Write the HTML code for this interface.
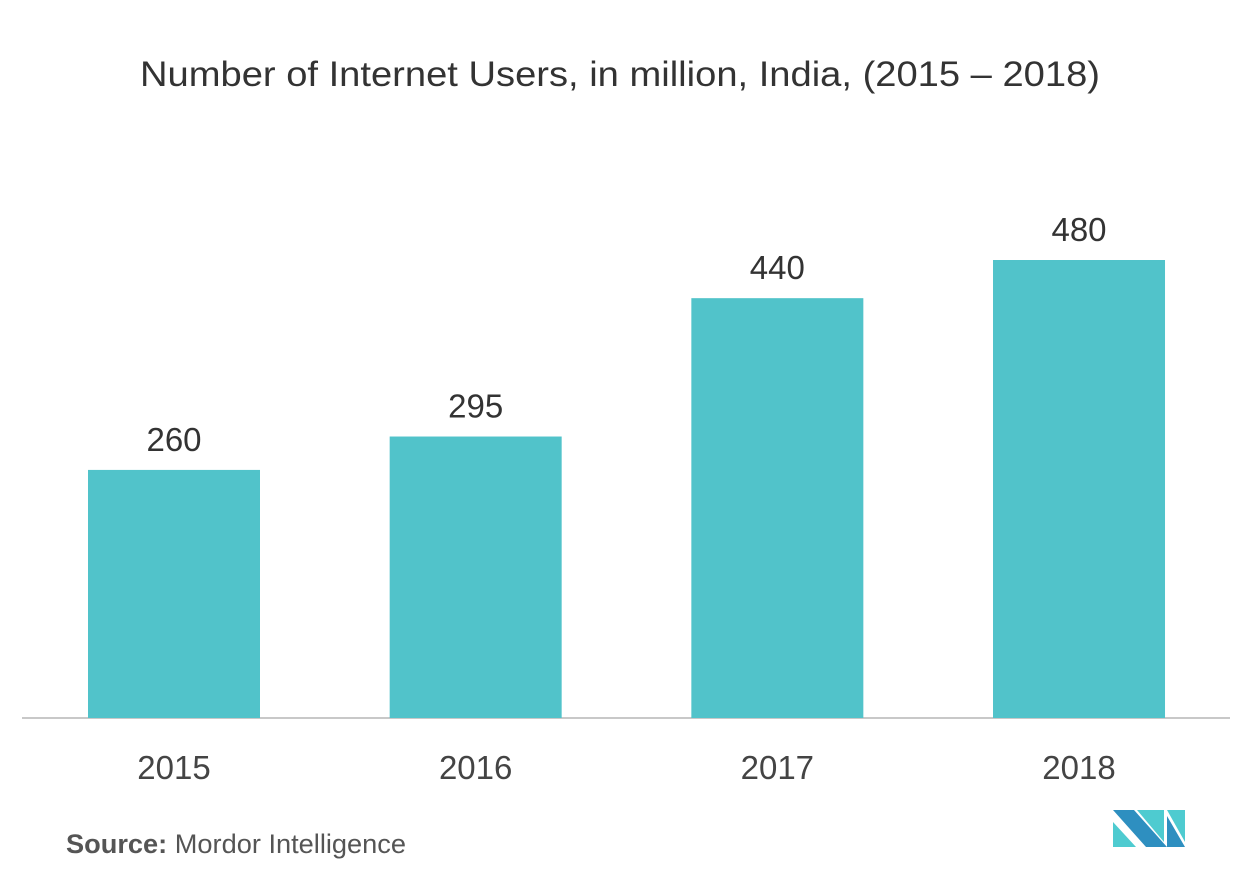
<!DOCTYPE html>
<html><head><meta charset="utf-8"><style>
body{margin:0;background:#fff;}
svg{display:block;font-family:"Liberation Sans",sans-serif;}
</style></head><body>
<svg id="c" width="1253" height="880">
<text x="140" y="86" font-size="35" fill="#333" textLength="960" lengthAdjust="spacingAndGlyphs">Number of Internet Users, in million, India, (2015 – 2018)</text>
<line x1="22" y1="718" x2="1230" y2="718" stroke="#c8c8c8" stroke-width="2"/>
<g id="bars"></g>
<text x="66" y="853" font-size="27" fill="#555" textLength="340" lengthAdjust="spacingAndGlyphs"><tspan font-weight="bold">Source:</tspan> Mordor Intelligence</text>
<g>
<polygon points="1113,810 1134,810 1167,847 1146,847" fill="#2e8fc0"/>
<polygon points="1113,822 1113,847 1136,847" fill="#4ecbd0"/>
<polygon points="1137,810 1164,810 1164,842" fill="#4ecbd0"/>
<polygon points="1167,810 1185,810 1185,842" fill="#4ecbd0"/>
<polygon points="1167,816 1185,847 1167,847" fill="#2e8fc0"/>
</g>
</svg>
<script>
const categories=["2015","2016","2017","2018"];
const values=[260,295,440,480];
const baseY=718, pxPer=458/480, x0=88, step=301.67, bw=172;
const y=v=>baseY-v*pxPer;
const g=document.getElementById('bars');
const ns='http://www.w3.org/2000/svg';
categories.forEach((c,i)=>{
  const x=x0+i*step;
  const r=document.createElementNS(ns,'rect');
  r.setAttribute('x',x);r.setAttribute('y',y(values[i]));
  r.setAttribute('width',bw);r.setAttribute('height',baseY-y(values[i]));
  r.setAttribute('fill','#51c3ca');
  
  
  g.appendChild(r);
  const t=document.createElementNS(ns,'text');
  t.setAttribute('x',x+bw/2);t.setAttribute('y',y(values[i])-19);
  t.setAttribute('text-anchor','middle');t.setAttribute('font-size','33');t.setAttribute('fill','#333');
  t.textContent=values[i];
  
  
  g.appendChild(t);
  const l=document.createElementNS(ns,'text');
  l.setAttribute('x',x+bw/2);l.setAttribute('y',779);
  l.setAttribute('text-anchor','middle');l.setAttribute('font-size','33');l.setAttribute('fill','#444');
  l.textContent=c;
  
  
  g.appendChild(l);
});
</script>
</body></html>
